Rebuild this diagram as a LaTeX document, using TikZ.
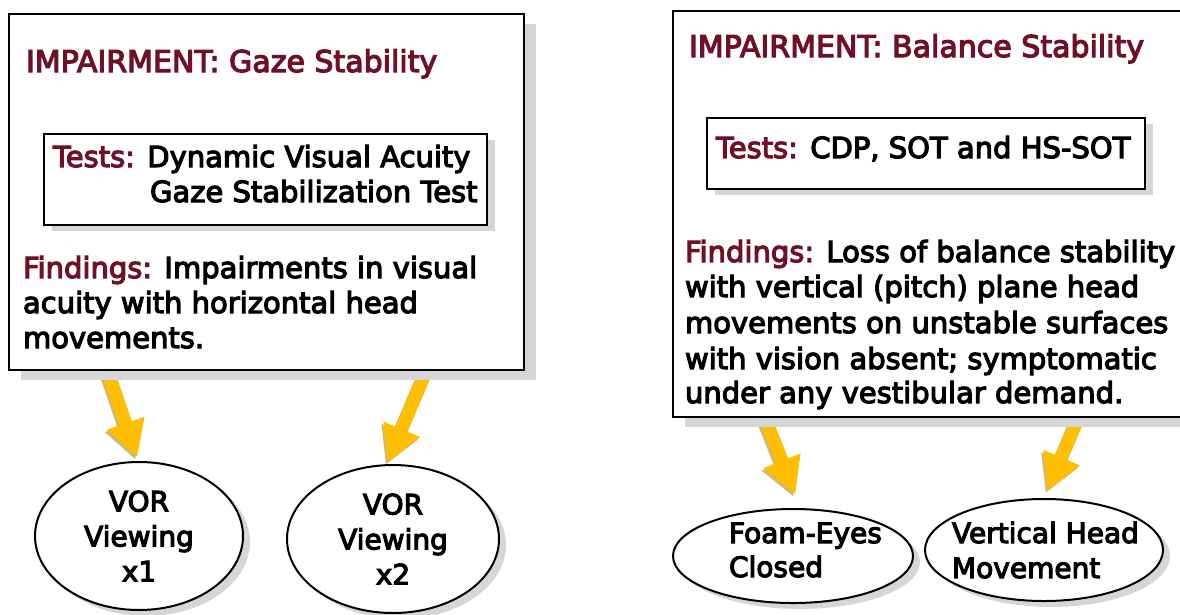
\documentclass[tikz,border=0pt]{standalone}
\usepackage{fontspec}
\setmainfont{DejaVu Sans}[FakeBold=4]
\usetikzlibrary{arrows.meta,shapes.geometric,shadows}
\definecolor{impred}{RGB}{112,16,40}
\definecolor{ayellow}{RGB}{255,190,0}
\definecolor{ashadow}{RGB}{175,125,0}
\definecolor{sgray}{RGB}{214,214,214}
\pgfdeclarelayer{background}
\pgfsetlayers{background,main}
\tikzset{
  bigbox/.style={draw, line width=2.3pt, fill=white, rectangle, anchor=north west, inner sep=0pt, outer sep=0pt,
    drop shadow={shadow xshift=12pt, shadow yshift=-10pt, fill=sgray, opacity=1}},
  testbox/.style={draw, line width=2.3pt, fill=white, rectangle, anchor=north west, inner sep=0pt, outer sep=0pt,
    drop shadow={shadow xshift=8pt, shadow yshift=-6pt, fill=sgray, opacity=1}},
  oval/.style={draw, line width=2pt, fill=white, ellipse, inner sep=0pt, outer sep=0pt,
    drop shadow={shadow xshift=7pt, shadow yshift=-6pt, fill=sgray, opacity=1}},
  txt/.style={anchor=base west, inner sep=0pt, outer sep=0pt, font=\fontsize{29}{35}\selectfont},
  ttl/.style={anchor=base west, inner sep=0pt, outer sep=0pt, font=\fontsize{30}{36}\selectfont, text=impred},
  otxt/.style={anchor=base west, inner sep=0pt, outer sep=0pt, font=\fontsize{28}{35}\selectfont},
  yarrow/.style={draw=ayellow, line width=13pt, -{Triangle[width=37pt,length=36pt]}},
  sarrow/.style={draw=ashadow, opacity=0.55, line width=13pt, -{Triangle[width=37pt,length=36pt]},
    transform canvas={shift={(-2pt,-2.5pt)}}},
}
\begin{document}
\begin{tikzpicture}[x=1pt,y=-1pt]
\clip (0,0) rectangle (1180,614);

% ---------- left panel ----------
\node[bigbox, minimum width=515pt, minimum height=356pt] (lbox) at (9,14) {};
\node[ttl] (ltitle) at (26,72) {IMPAIRMENT: Gaze Stability};
\node[testbox, minimum width=443pt, minimum height=91pt] (ltests) at (44,134) {};
\node[txt] (lt1) at (53,167) {\textcolor{impred}{Tests:} Dynamic Visual Acuity};
\node[txt] (lt2) at (150,202) {Gaze Stabilization Test};
\node[txt] (lf1) at (23,278) {\textcolor{impred}{Findings:} Impairments in visual};
\node[txt] (lf2) at (23,313) {acuity with horizontal head};
\node[txt] (lf3) at (23,348) {movements.};

% ---------- right panel ----------
\node[bigbox, minimum width=530pt, minimum height=406pt] (rbox) at (673,11) {};
\node[ttl] (rtitle) at (689,57) {IMPAIRMENT: Balance Stability};
\node[testbox, minimum width=438pt, minimum height=71pt] (rtests) at (707,118) {};
\node[txt] (rt1) at (716,158) {\textcolor{impred}{Tests:} CDP, SOT and HS-SOT};
\node[txt] (rf1) at (685,262) {\textcolor{impred}{Findings:} Loss of balance stability};
\node[txt] (rf2) at (685,297) {with vertical (pitch) plane head};
\node[txt] (rf3) at (685,333) {movements on unstable surfaces};
\node[txt] (rf4) at (685,369) {with vision absent; symptomatic};
\node[txt] (rf5) at (685,403) {under any vestibular demand.};

% ---------- ovals ----------
\node[oval, minimum width=208pt, minimum height=148pt, align=center, font=\fontsize{28}{35}\selectfont] (e1) at (139,536) {VOR\\Viewing\\x1};
\node[oval, minimum width=212pt, minimum height=148pt, align=center, font=\fontsize{28}{35}\selectfont] (e2) at (393,539) {VOR\\Viewing\\x2};
\node[oval, minimum width=240pt, minimum height=94pt] (e3) at (793,556) {};
\node[otxt] (e3a) at (729,543) {Foam-Eyes};
\node[otxt] (e3b) at (729,577) {Closed};
\node[oval, minimum width=238pt, minimum height=102pt] (e4) at (1044,550) {};
\node[otxt] (e4a) at (952,543) {Vertical Head};
\node[otxt] (e4b) at (952,578) {Movement};

% ---------- arrows (behind the boxes) ----------
\begin{pgfonlayer}{background}
\coordinate (a1s) at (104,360);
\coordinate (a2s) at (431,360);
\coordinate (a3s) at (760,405);
\coordinate (a4s) at (1084,405);
\draw[sarrow, shorten >=5pt] (a1s) -- (e1.north);
\draw[sarrow, shorten >=3pt] (a2s) -- (e2.95);
\draw[sarrow, shorten >=16pt] (a3s) -- (e3.80);
\draw[sarrow, shorten >=9pt] (a4s) -- (e4.north);
\draw[yarrow, shorten >=5pt] (a1s) -- (e1.north);
\draw[yarrow, shorten >=3pt] (a2s) -- (e2.95);
\draw[yarrow, shorten >=16pt] (a3s) -- (e3.80);
\draw[yarrow, shorten >=9pt] (a4s) -- (e4.north);
\end{pgfonlayer}
\end{tikzpicture}
\end{document}
